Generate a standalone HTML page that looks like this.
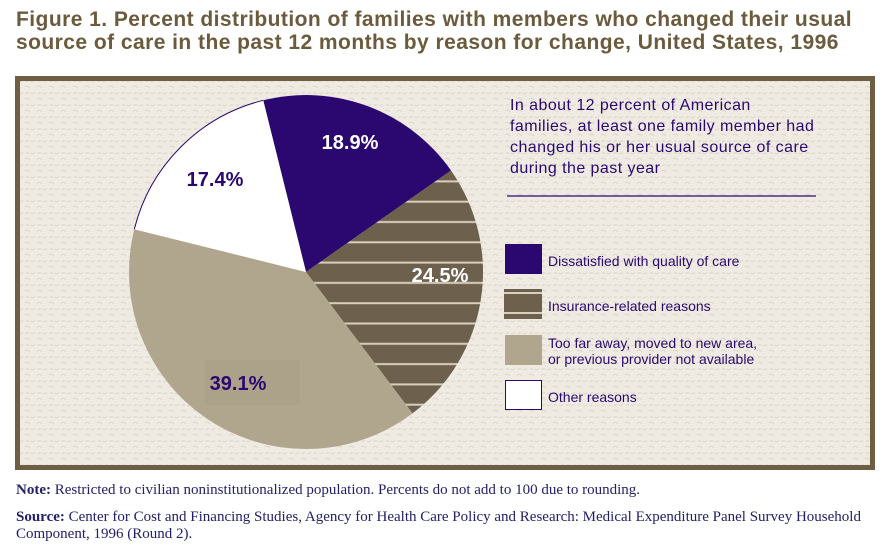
<!DOCTYPE html>
<html><head><style>
body{margin:0;width:894px;height:552px;background:#fff;position:relative;overflow:hidden;font-family:"Liberation Sans",sans-serif}
.t{position:absolute;left:16px;top:8px;color:#6b5a3c;font-weight:bold;font-size:21px;line-height:23px;letter-spacing:0.45px;white-space:nowrap}
.n{position:absolute;left:16px;font-family:"Liberation Serif",serif;font-size:15px;color:#23206a;line-height:17px;white-space:nowrap}
</style></head><body>
<div class="t">Figure 1. Percent distribution of families with members who changed their usual<br>source of care in the past 12 months by reason for change, United States, 1996</div>
<svg style="position:absolute;left:0;top:0" width="894" height="552">
<defs>
<pattern id="st" patternUnits="userSpaceOnUse" width="20" height="20.3" y="0">
<rect width="20" height="20.3" fill="#6d604d"/>
<rect y="18" width="20" height="2" fill="#d9cfbd"/>
</pattern>
<pattern id="tx" patternUnits="userSpaceOnUse" width="12" height="12">
<rect width="12" height="12" fill="#efebe3"/>
<path d="M1 3q3-2 5 1M7 9q2 2 4-1M2 10q1-2 3-1" stroke="#ddd6c9" fill="none" stroke-width="1"/>
</pattern>
</defs>
<rect x="17.5" y="78.5" width="855" height="389" fill="url(#tx)" stroke="#6e5f44" stroke-width="5"/>
<path d="M306 272 L263.2 100.3 A177 177 0 0 1 451 170.5Z" fill="#2a0870"/>
<path d="M306 272 L451 170.5 A177 177 0 0 1 412.5 413.4Z" fill="url(#st)"/>
<path d="M306 272 L412.5 413.4 A177 177 0 0 1 134.3 229.2Z" fill="#b0a68e"/>
<path d="M306 272 L134.3 229.2 A177 177 0 0 1 263.2 100.3Z" fill="#fff"/>
<path d="M134.3 229.2 A177 177 0 0 1 263.2 100.3" fill="none" stroke="#2a0870" stroke-width="1"/>
<rect x="205" y="360" width="95" height="45" fill="#aca189"/>
<g font-weight="bold" font-size="20" text-anchor="middle">
<text x="350" y="149" fill="#fff">18.9%</text>
<text x="215" y="186" fill="#2a0870">17.4%</text>
<text x="440" y="282" fill="#fff">24.5%</text>
<text x="238" y="390" fill="#2a0870">39.1%</text>
</g>
<g fill="#2a0870" font-size="16" letter-spacing="0.45">
<text x="510" y="110">In about 12 percent of American</text>
<text x="510" y="131">families, at least one family member had</text>
<text x="510" y="152">changed his or her usual source of care</text>
<text x="510" y="173">during the past year</text>
</g>
<line x1="507" y1="196" x2="816" y2="196" stroke="#2a0870" stroke-width="1.3"/>
<rect x="505" y="244" width="37" height="30" fill="#2a0870"/>
<rect x="504" y="289" width="38" height="30" fill="#6d604d"/>
<rect x="504" y="292" width="38" height="2" fill="#d9cfbd"/>
<rect x="504" y="312" width="38" height="2" fill="#d9cfbd"/>
<rect x="505" y="335" width="37" height="30" fill="#b0a68e"/>
<rect x="505.5" y="380.5" width="36" height="29" fill="#fff" stroke="#2a0870"/>
<g fill="#2a0870" font-size="14">
<text x="548" y="266">Dissatisfied with quality of care</text>
<text x="548" y="311">Insurance-related reasons</text>
<text x="548" y="348">Too far away, moved to new area,</text>
<text x="548" y="364">or previous provider not available</text>
<text x="548" y="402">Other reasons</text>
</g>
</svg>
<div class="n" style="top:482px"><b>Note:</b> Restricted to civilian noninstitutionalized population. Percents do not add to 100 due to rounding.</div>
<div class="n" style="top:509px"><b>Source:</b> Center for Cost and Financing Studies, Agency for Health Care Policy and Research: Medical Expenditure Panel Survey Household<br>Component, 1996 (Round 2).</div>
</body></html>
